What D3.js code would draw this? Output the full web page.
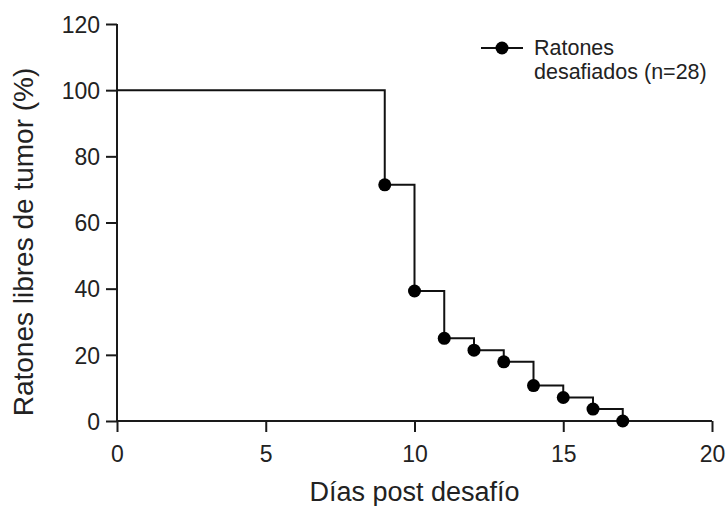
<!DOCTYPE html>
<html>
<head>
<meta charset="utf-8">
<script src="https://cdn.jsdelivr.net/npm/d3@7"></script>
<style>
  body { margin: 0; background: #fff; }
  svg { display: block; font-family: "Liberation Sans", Arial, sans-serif; }
</style>
</head>
<body>
<div id="chart"></div>
<script>
// Data
const days = [0, 9, 10, 11, 12, 13, 14, 15, 16, 17];
const survival = [100, 71.4, 39.3, 25, 21.4, 17.9, 10.7, 7.1, 3.6, 0];
const xTicks = [0, 5, 10, 15, 20];
const yTicks = [0, 20, 40, 60, 80, 100, 120];
const legendLines = ["Ratones", "desafiados (n=28)"];

const data = days.map((d, i) => ({ day: d, value: survival[i] }));

// Dimensions
const dimensions = { width: 727, height: 506, left: 117, right: 15, top: 24, bottom: 85 };
dimensions.ctrWidth = dimensions.width - dimensions.left - dimensions.right;
dimensions.ctrHeight = dimensions.height - dimensions.top - dimensions.bottom;

const svg = d3.select("#chart").append("svg")
  .attr("width", dimensions.width)
  .attr("height", dimensions.height);

const ctr = svg.append("g")
  .attr("transform", `translate(${dimensions.left}, ${dimensions.top})`);

// Scales
const xScale = d3.scaleLinear().domain([0, 20]).range([0, dimensions.ctrWidth]);
const yScale = d3.scaleLinear().domain([0, 120]).range([dimensions.ctrHeight, 0]);

// Axes
const xAxis = d3.axisBottom(xScale).tickValues(xTicks).tickSize(11).tickPadding(14);
const yAxis = d3.axisLeft(yScale).tickValues(yTicks).tickSize(11).tickPadding(6);

const xAxisGroup = ctr.append("g")
  .attr("transform", `translate(0, ${dimensions.ctrHeight})`)
  .call(xAxis);
const yAxisGroup = ctr.append("g").call(yAxis);

[xAxisGroup, yAxisGroup].forEach((g) => {
  g.select(".domain").attr("stroke", "#1a1a1a").attr("stroke-width", 2);
  g.selectAll(".tick line").attr("stroke", "#1a1a1a").attr("stroke-width", 2);
  g.selectAll(".tick text")
    .attr("fill", "#222")
    .style("font-size", "23px")
    .style("font-family", "Liberation Sans, Arial, sans-serif");
});
yAxisGroup.selectAll(".tick text").attr("dy", "0.36em");
// plain axis lines, no end caps
xAxisGroup.select(".domain").attr("d", `M0,0H${dimensions.ctrWidth}`);
yAxisGroup.select(".domain").attr("d", `M0,${dimensions.ctrHeight}V0`);

// Step line
const line = d3.line()
  .x((d) => xScale(d.day))
  .y((d) => yScale(d.value))
  .curve(d3.curveStepAfter);

ctr.append("path")
  .datum(data)
  .attr("d", line)
  .attr("fill", "none")
  .attr("stroke", "#111")
  .attr("stroke-width", 2);

ctr.selectAll("circle.dot")
  .data(data.slice(1))
  .join("circle")
  .attr("class", "dot")
  .attr("cx", (d) => xScale(d.day))
  .attr("cy", (d) => yScale(d.value))
  .attr("r", 6.5)
  .attr("fill", "#000");

// Axis titles
svg.append("text")
  .attr("x", dimensions.left + dimensions.ctrWidth / 2)
  .attr("y", 501)
  .attr("text-anchor", "middle")
  .attr("fill", "#222")
  .style("font-size", "27px")
  .text("Días post desafío");

svg.append("text")
  .attr("transform", `translate(33, 242) rotate(-90)`)
  .attr("text-anchor", "middle")
  .attr("fill", "#222")
  .style("font-size", "28px")
  .text("Ratones libres de tumor (%)");

// Legend
const legend = svg.append("g").attr("transform", "translate(481, 48)");
legend.append("line")
  .attr("x1", 0).attr("x2", 42)
  .attr("stroke", "#111").attr("stroke-width", 2);
legend.append("circle").attr("cx", 21).attr("r", 6.5).attr("fill", "#000");
legend.selectAll("text")
  .data(legendLines)
  .join("text")
  .attr("x", 53)
  .attr("y", (d, i) => 7 + i * 24)
  .attr("fill", "#222")
  .style("font-size", "21.5px")
  .text((d) => d);
</script>
</body>
</html>
